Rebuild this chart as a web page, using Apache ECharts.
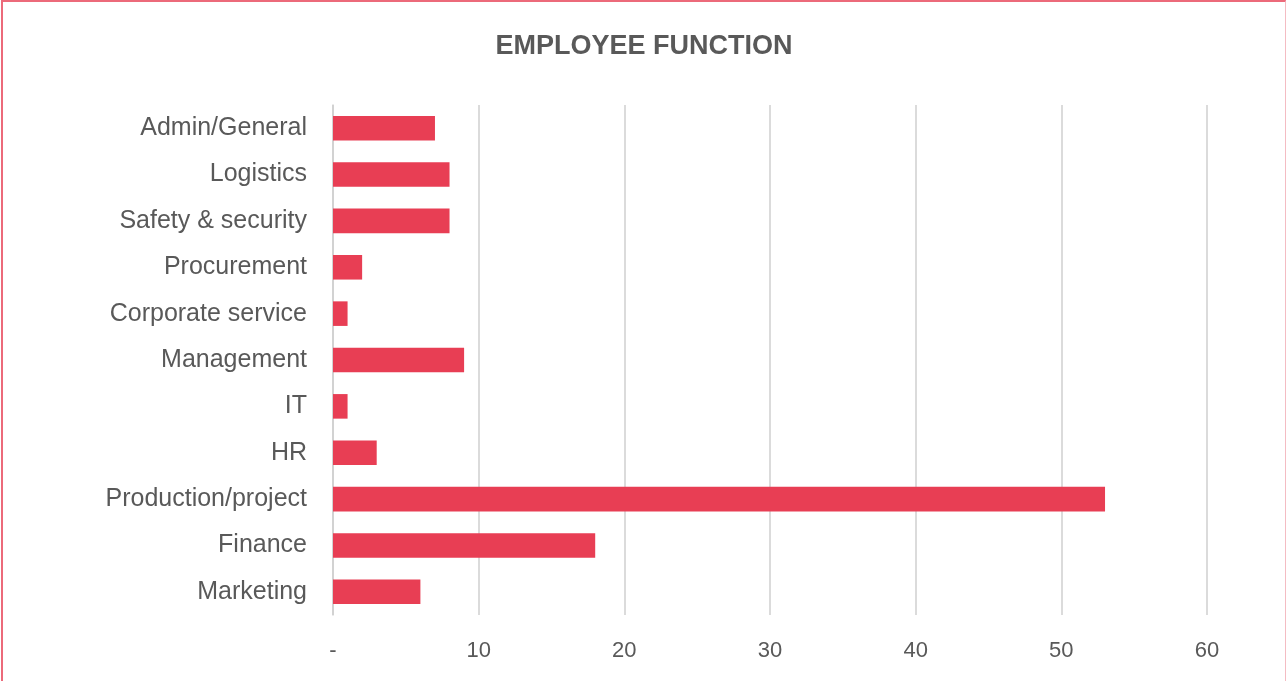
<!DOCTYPE html>
<html><head><meta charset="utf-8">
<script src="https://cdn.jsdelivr.net/npm/echarts@6/dist/echarts.min.js"></script>
<style>
html,body{margin:0;padding:0;background:#fff;}
#frame{position:absolute;left:1px;top:0;width:1285px;height:700px;border-left:2px solid #ec6a7a;border-top:2px solid #ec6a7a;border-right:1px solid #f4bcc3;box-sizing:border-box;}
#c{position:absolute;left:0;top:0;width:1288px;height:681px;}
</style></head>
<body>
<div id="frame"></div>
<div id="c"></div>
<script>
const titleText = "EMPLOYEE FUNCTION";
const categories = ["Admin/General","Logistics","Safety & security","Procurement","Corporate service","Management","IT","HR","Production/project","Finance","Marketing"];
const values = [7,8,8,2,1,9,1,3,53,18,6];
const xTicks = {min:0,max:60,interval:10};

const chart = echarts.init(document.getElementById('c'));
chart.setOption({
  animation:false,
  backgroundColor:'transparent',
  title:{text:titleText,left:'center',top:28,textStyle:{fontFamily:'Liberation Sans',fontWeight:'bold',fontSize:27,color:'#595959'}},
  grid:{left:333,right:81,top:105,bottom:66,containLabel:false},
  xAxis:{type:'value',min:xTicks.min,max:xTicks.max,interval:xTicks.interval,
    axisLine:{show:false},axisTick:{show:false},
    splitLine:{lineStyle:{color:'#cfcfcf',width:1.5}},
    axisLabel:{margin:25,fontFamily:'Liberation Sans',fontSize:22,color:'#595959',
      formatter:v=>v===0?'-':String(v)}},
  yAxis:{type:'category',data:categories,inverse:true,
    axisLine:{lineStyle:{color:'#cfcfcf',width:1.5}},axisTick:{show:false},
    axisLabel:{margin:26,fontFamily:'Liberation Sans',fontSize:25,color:'#595959'}},
  series:[{type:'bar',data:values,barWidth:'53%',itemStyle:{color:'#E83E54'}}]
});
</script>
</body></html>
